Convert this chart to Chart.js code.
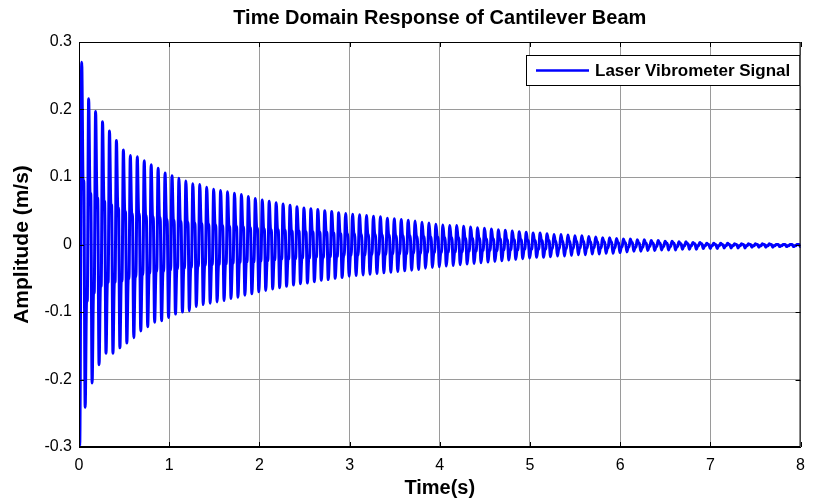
<!DOCTYPE html>
<html>
<head>
<meta charset="utf-8">
<title>Time Domain Response of Cantilever Beam</title>
<script src="https://cdn.jsdelivr.net/npm/chart.js@4.4.1/dist/chart.umd.min.js"></script>
<style>
  html, body { margin: 0; padding: 0; background: #ffffff; }
  #wrap { width: 814px; height: 501px; }
</style>
</head>
<body>
<div id="wrap"><canvas id="beamChart" width="814" height="501"></canvas></div>
<script>
// Laser vibrometer velocity of the cantilever tip after the impulse.
// One entry per oscillation: crest, knee on the way down, trough, knee on the way up.
const firstPeakTime = 0.03;   // s
const period = 0.077;         // s (about 13 Hz)

const startTimes = [0, 0.008];
const startValues = [0.02, -0.298];

const peaks = [
  0.270, 0.216, 0.197, 0.182, 0.168, 0.154, 0.140, 0.132, 0.130, 0.124,
  0.118, 0.113, 0.106, 0.102, 0.098, 0.094, 0.090, 0.089, 0.085, 0.082,
  0.080, 0.078, 0.076, 0.074, 0.071, 0.068, 0.066, 0.064, 0.062, 0.060,
  0.058, 0.056, 0.054, 0.053, 0.052, 0.050, 0.049, 0.047, 0.046, 0.045,
  0.044, 0.043, 0.042, 0.041, 0.039, 0.038, 0.037, 0.036, 0.035, 0.033,
  0.032, 0.030, 0.029, 0.028, 0.028, 0.027, 0.026, 0.025, 0.024, 0.023,
  0.022, 0.021, 0.020, 0.019, 0.018, 0.017, 0.017, 0.016, 0.015, 0.015,
  0.014, 0.013, 0.013, 0.012, 0.011, 0.010, 0.010, 0.009, 0.008, 0.008,
  0.007, 0.007, 0.006, 0.006, 0.005, 0.005, 0.004, 0.004, 0.003, 0.003,
  0.002, 0.002, 0.002, 0.002, 0.001, 0.001, 0.001, 0.001, 0.001, 0.001,
  0.000, 0.000, 0.000, 0.000
];
const troughs = [
  -0.241, -0.205, -0.178, -0.161, -0.161, -0.153, -0.146, -0.138, -0.128, -0.122,
  -0.115, -0.113, -0.108, -0.103, -0.100, -0.098, -0.092, -0.089, -0.087, -0.085,
  -0.083, -0.080, -0.078, -0.075, -0.073, -0.070, -0.068, -0.066, -0.064, -0.062,
  -0.060, -0.058, -0.057, -0.055, -0.053, -0.052, -0.050, -0.049, -0.047, -0.046,
  -0.045, -0.044, -0.043, -0.042, -0.041, -0.040, -0.039, -0.038, -0.037, -0.035,
  -0.034, -0.033, -0.032, -0.031, -0.030, -0.029, -0.028, -0.027, -0.026, -0.025,
  -0.024, -0.023, -0.022, -0.021, -0.020, -0.019, -0.019, -0.018, -0.017, -0.017,
  -0.016, -0.015, -0.015, -0.014, -0.014, -0.013, -0.013, -0.012, -0.011, -0.010,
  -0.010, -0.009, -0.009, -0.008, -0.008, -0.008, -0.007, -0.007, -0.007, -0.006,
  -0.006, -0.006, -0.005, -0.005, -0.005, -0.005, -0.004, -0.004, -0.004, -0.004,
  -0.003, -0.003, -0.003, -0.003
];
const upperKnees = [
  0.095, 0.076, 0.069, 0.064, 0.059, 0.054, 0.049, 0.046, 0.046, 0.043,
  0.041, 0.040, 0.037, 0.036, 0.034, 0.033, 0.032, 0.031, 0.030, 0.029,
  0.028, 0.027, 0.027, 0.026, 0.025, 0.024, 0.023, 0.022, 0.022, 0.021,
  0.020, 0.020, 0.019, 0.019, 0.018, 0.018, 0.017, 0.016, 0.016, 0.016,
  0.015, 0.015, 0.015, 0.014, 0.014, 0.013, 0.013, 0.013, 0.012, 0.012,
  0.011, 0.011, 0.010, 0.010, 0.010, 0.009, 0.009, 0.009, 0.008, 0.008,
  0.008, 0.007, 0.007, 0.007, 0.006, 0.006, 0.006, 0.006, 0.005, 0.005,
  0.005, 0.005, 0.005, 0.004, 0.004, 0.004, 0.004, 0.003, 0.003, 0.003,
  0.002, 0.002, 0.002, 0.002, 0.002, 0.002, 0.001, 0.001, 0.001, 0.001,
  0.000, 0.000, 0.000, 0.000, 0.000, 0.000, 0.000, 0.000, 0.000, 0.000,
  0.000, 0.000, 0.000, 0.000
];
const lowerKnees = [
  -0.084, -0.072, -0.062, -0.056, -0.056, -0.054, -0.051, -0.048, -0.045, -0.043,
  -0.040, -0.040, -0.038, -0.036, -0.035, -0.034, -0.032, -0.031, -0.030, -0.030,
  -0.029, -0.028, -0.027, -0.026, -0.026, -0.025, -0.024, -0.023, -0.022, -0.022,
  -0.021, -0.020, -0.020, -0.019, -0.019, -0.018, -0.018, -0.017, -0.016, -0.016,
  -0.016, -0.015, -0.015, -0.015, -0.014, -0.014, -0.014, -0.013, -0.013, -0.012,
  -0.012, -0.012, -0.011, -0.011, -0.011, -0.010, -0.010, -0.009, -0.009, -0.009,
  -0.008, -0.008, -0.008, -0.007, -0.007, -0.007, -0.007, -0.006, -0.006, -0.006,
  -0.006, -0.005, -0.005, -0.005, -0.005, -0.005, -0.005, -0.004, -0.004, -0.004,
  -0.004, -0.003, -0.003, -0.003, -0.003, -0.003, -0.002, -0.002, -0.002, -0.002,
  -0.002, -0.002, -0.002, -0.002, -0.002, -0.002, -0.002, -0.002, -0.002, -0.002,
  -0.002, -0.002, -0.002, -0.002
];

const xTicks = [0, 1, 2, 3, 4, 5, 6, 7, 8];
const yTicks = [-0.3, -0.2, -0.1, 0, 0.1, 0.2, 0.3];

const FONT = "Arial, 'Liberation Sans', Helvetica, sans-serif";

// build the trace: each cycle is crest -> knee -> trough -> knee
const signal = [];
startTimes.forEach((t, i) => signal.push({ x: t, y: startValues[i] }));
peaks.forEach((p, i) => {
  const t0 = firstPeakTime + i * period;
  signal.push({ x: t0, y: p });
  signal.push({ x: t0 + 0.2 * period, y: upperKnees[i] });
  signal.push({ x: t0 + 0.3 * period, y: upperKnees[i] });
  signal.push({ x: t0 + 0.5 * period, y: troughs[i] });
  signal.push({ x: t0 + 0.7 * period, y: lowerKnees[i] });
  signal.push({ x: t0 + 0.8 * period, y: lowerKnees[i] });
});

// box, inward tick marks and the legend, MATLAB style
const axesBox = {
  id: "axesBox",
  afterDraw(chart) {
    const { ctx, chartArea: a, scales } = chart;
    ctx.save();
    ctx.strokeStyle = "#000";
    ctx.lineWidth = 1;
    ctx.beginPath();
    ctx.rect(a.left + 0.5, a.top + 0.5, a.right - a.left - 1, a.bottom - a.top - 1);
    const len = 5;
    xTicks.forEach((v) => {
      const x = Math.round(scales.x.getPixelForValue(v)) + 0.5;
      ctx.moveTo(x, a.bottom); ctx.lineTo(x, a.bottom - len);
      ctx.moveTo(x, a.top); ctx.lineTo(x, a.top + len);
    });
    yTicks.forEach((v) => {
      const y = Math.round(scales.y.getPixelForValue(v)) + 0.5;
      ctx.moveTo(a.left, y); ctx.lineTo(a.left + len, y);
      ctx.moveTo(a.right, y); ctx.lineTo(a.right - len, y);
    });
    ctx.stroke();

    // legend
    const ds = chart.data.datasets[0];
    ctx.font = "bold 17px " + FONT;
    const textW = ctx.measureText(ds.label).width;
    const boxW = 10 + 53 + 6 + textW + 10;
    const boxH = 31;
    const bx = Math.round(a.right - boxW);
    const by = a.top + 13;
    ctx.fillStyle = "#fff";
    ctx.fillRect(bx, by, boxW, boxH);
    ctx.strokeStyle = "#000";
    ctx.strokeRect(bx + 0.5, by + 0.5, boxW - 1, boxH - 1);
    ctx.strokeStyle = ds.borderColor;
    ctx.lineWidth = 2.5;
    ctx.beginPath();
    ctx.moveTo(bx + 10, by + boxH / 2);
    ctx.lineTo(bx + 63, by + boxH / 2);
    ctx.stroke();
    ctx.fillStyle = "#000";
    ctx.textBaseline = "middle";
    ctx.fillText(ds.label, bx + 69, by + boxH / 2 + 1);
    ctx.restore();
  }
};

new Chart(document.getElementById("beamChart").getContext("2d"), {
  type: "line",
  data: {
    datasets: [
      {
        label: "Laser Vibrometer Signal",
        data: signal,
        borderColor: "#0000ff",
        borderWidth: 3,
        borderJoinStyle: "round",
        borderCapStyle: "round",
        pointRadius: 0,
        cubicInterpolationMode: "monotone",
        fill: false,
      },
    ],
  },
  options: {
    responsive: false,
    devicePixelRatio: 1,
    animation: false,
    layout: { padding: { left: 0, right: 8, top: 0, bottom: 0 } },
    plugins: {
      legend: { display: false },
      tooltip: { enabled: false },
      title: {
        display: true,
        fullSize: false,
        text: "Time Domain Response of Cantilever Beam",
        color: "#000",
        font: { family: FONT, size: 20, weight: "bold", lineHeight: 1.2 },
        padding: { top: 6, bottom: 12 },
      },
    },
    scales: {
      x: {
        type: "linear",
        min: 0,
        max: 8,
        afterFit(scale) { scale.height = 54; },
        ticks: {
          stepSize: 1,
          color: "#000",
          padding: 9,
          font: { family: FONT, size: 16 },
        },
        grid: { color: "#9a9a9a", lineWidth: 1, drawTicks: false },
        border: { display: true, color: "#000" },
        title: {
          display: true,
          text: "Time(s)",
          color: "#000",
          font: { family: FONT, size: 20, weight: "bold", lineHeight: 1.2 },
          padding: { top: 0, bottom: 1 },
        },
      },
      y: {
        min: -0.3,
        max: 0.3,
        afterFit(scale) { scale.width = 79; },
        ticks: {
          stepSize: 0.1,
          color: "#000",
          padding: 7,
          font: { family: FONT, size: 16 },
          callback: (v) => (Math.abs(v) < 1e-9 ? "0" : Number(v).toFixed(1)),
        },
        grid: { color: "#9a9a9a", lineWidth: 1, drawTicks: false },
        border: { display: true, color: "#000" },
        title: {
          display: true,
          text: "Amplitude (m/s)",
          color: "#000",
          font: { family: FONT, size: 21, weight: "bold", lineHeight: 1.2 },
          padding: { top: 10, bottom: 0 },
        },
      },
    },
  },
  plugins: [axesBox],
});
</script>
</body>
</html>
